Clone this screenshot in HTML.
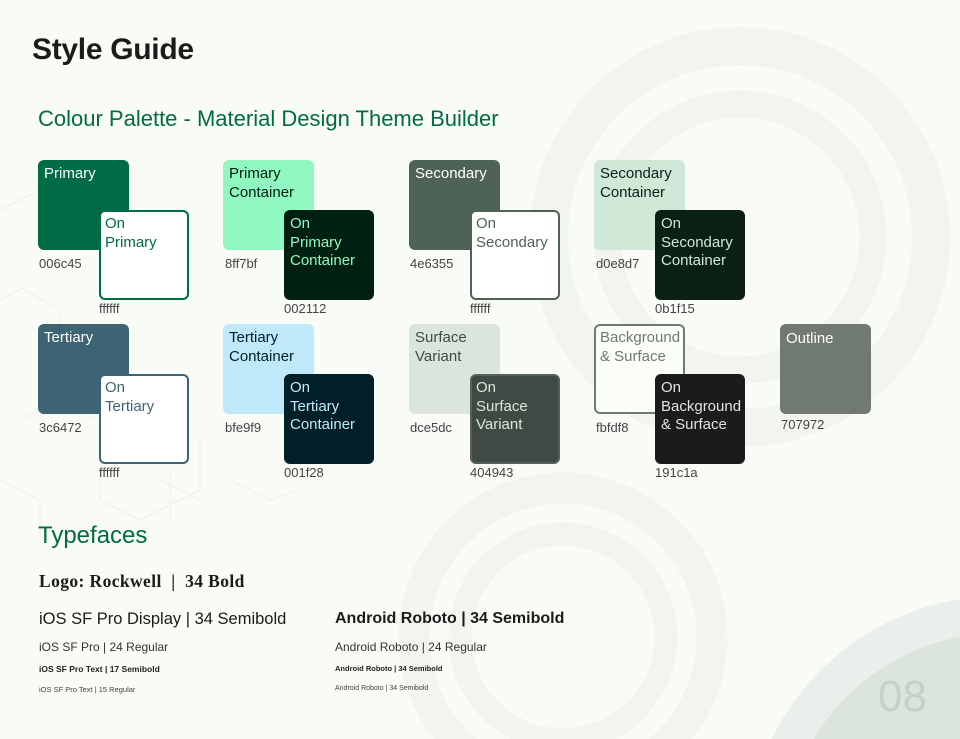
<!DOCTYPE html>
<html><head><meta charset="utf-8"><style>
*{margin:0;padding:0;box-sizing:border-box}
html,body{width:960px;height:739px;overflow:hidden}
body{background:#f9fbf7;font-family:"Liberation Sans",sans-serif;position:relative}
.a{position:absolute;white-space:nowrap}
.b{position:absolute;width:91px;height:90px;border-radius:6px;padding:5px 6px;font-size:15px;line-height:18.5px}
.s{position:absolute;width:90px;height:90px;border-radius:6px;padding:3px 4px;font-size:15px;line-height:18.5px;border:2px solid}
.h{position:absolute;font-size:13px;color:#444;white-space:nowrap}
</style></head><body>
<svg class="a" style="left:0;top:0;display:block" width="960" height="739">
<g fill="none" stroke="#f2f4f0">
<circle cx="740" cy="237" r="191" stroke-width="38"/>
<circle cx="740" cy="237" r="133" stroke-width="27"/>
<circle cx="563" cy="637" r="149" stroke-width="31"/>
<circle cx="563" cy="637" r="103" stroke-width="23"/>
</g>
<g fill="none" stroke="#edefeb" stroke-width="1">
<path d="M0 210 L30 195 L60 210 L60 250 M0 300 L22 288 L60 310 L60 360 L100 382 L100 430 M20 420 L60 400 L100 420 M140 440 L100 460 L100 500 L140 520 L200 490 L200 440 M160 480 L200 500 M0 480 L40 500 L40 540 M170 470 L170 520 M230 480 L270 500 L300 490"/>
</g>
<circle cx="1000" cy="850" r="254" fill="#ebefeb"/>
<circle cx="1000" cy="850" r="217" fill="#dce4de"/>
</svg>
<div class="a" style="left:32px;top:33px;font-size:30px;font-weight:bold;color:#1b1c1a;letter-spacing:-0.3px">Style Guide</div>
<div class="a" style="left:38px;top:106px;font-size:22px;color:#006c45">Colour Palette - Material Design Theme Builder</div>

<div class="b" style="left:38px;top:160px;background:#006c45;color:#fff">Primary</div>
<div class="h" style="left:39px;top:256px">006c45</div>
<div class="s" style="left:99px;top:210px;background:#fff;border-color:#006c45;color:#006c45">On<br>Primary</div>
<div class="h" style="left:99px;top:301px">ffffff</div>

<div class="b" style="left:223px;top:160px;background:#8ff7bf;color:#002112">Primary<br>Container</div>
<div class="h" style="left:225px;top:256px">8ff7bf</div>
<div class="s" style="left:284px;top:210px;background:#002112;border-color:#002112;color:#8ff7bf">On<br>Primary<br>Container</div>
<div class="h" style="left:284px;top:301px">002112</div>

<div class="b" style="left:409px;top:160px;background:#4e6355;color:#fff">Secondary</div>
<div class="h" style="left:410px;top:256px">4e6355</div>
<div class="s" style="left:470px;top:210px;background:#fff;border-color:#4e6355;color:#4e6355">On<br>Secondary</div>
<div class="h" style="left:470px;top:301px">ffffff</div>

<div class="b" style="left:594px;top:160px;background:#d0e8d7;color:#0b1f15">Secondary<br>Container</div>
<div class="h" style="left:596px;top:256px">d0e8d7</div>
<div class="s" style="left:655px;top:210px;background:#0b1f15;border-color:#0b1f15;color:#d0e8d7">On<br>Secondary<br>Container</div>
<div class="h" style="left:655px;top:301px">0b1f15</div>

<div class="b" style="left:38px;top:324px;background:#3c6472;color:#fff">Tertiary</div>
<div class="h" style="left:39px;top:420px">3c6472</div>
<div class="s" style="left:99px;top:374px;background:#fff;border-color:#3c6472;color:#3c6472">On<br>Tertiary</div>
<div class="h" style="left:99px;top:465px">ffffff</div>

<div class="b" style="left:223px;top:324px;background:#bfe9f9;color:#001f28">Tertiary<br>Container</div>
<div class="h" style="left:225px;top:420px">bfe9f9</div>
<div class="s" style="left:284px;top:374px;background:#001f28;border-color:#001f28;color:#bfe9f9">On<br>Tertiary<br>Container</div>
<div class="h" style="left:284px;top:465px">001f28</div>

<div class="b" style="left:409px;top:324px;background:#dce5dc;color:#404943">Surface<br>Variant</div>
<div class="h" style="left:410px;top:420px">dce5dc</div>
<div class="s" style="left:470px;top:374px;background:#404943;border-color:#56605a;color:#dce5dc">On<br>Surface<br>Variant</div>
<div class="h" style="left:470px;top:465px">404943</div>

<div class="b" style="left:594px;top:324px;background:#fbfdf8;border:2px solid #707972;color:#707972;padding:3px 4px">Background<br>&amp; Surface</div>
<div class="h" style="left:596px;top:420px">fbfdf8</div>
<div class="s" style="left:655px;top:374px;background:#191c1a;border-color:#191c1a;color:#e1e3df">On<br>Background<br>&amp; Surface</div>
<div class="h" style="left:655px;top:465px">191c1a</div>

<div class="b" style="left:780px;top:324px;background:#707972;color:#fff;padding-top:6px">Outline</div>
<div class="h" style="left:781px;top:417px">707972</div>

<div class="a" style="left:38px;top:522px;font-size:24px;color:#006c45">Typefaces</div>
<div class="a" style="left:39px;top:571px;font-size:17.5px;font-weight:bold;letter-spacing:0.4px;font-family:'Liberation Serif',serif;color:#1b1c1a">Logo: Rockwell&nbsp; | &nbsp;34 Bold</div>

<div class="a" style="left:39px;top:610px;font-size:16.5px;color:#1b1c1a">iOS SF Pro Display | 34 Semibold</div>
<div class="a" style="left:39px;top:640px;font-size:12px;color:#333">iOS SF Pro | 24 Regular</div>
<div class="a" style="left:39px;top:664px;font-size:8.5px;font-weight:bold;color:#222">iOS SF Pro Text | 17 Semibold</div>
<div class="a" style="left:39px;top:685px;font-size:7.5px;color:#444">iOS SF Pro Text | 15 Regular</div>

<div class="a" style="left:335px;top:610px;font-size:16px;font-weight:bold;color:#1b1c1a">Android Roboto | 34 Semibold</div>
<div class="a" style="left:335px;top:640px;font-size:12px;color:#333">Android Roboto | 24 Regular</div>
<div class="a" style="left:335px;top:664px;font-size:7.5px;font-weight:bold;color:#222">Android Roboto | 34 Semibold</div>
<div class="a" style="left:335px;top:685px;font-size:7px;color:#444">Android Roboto | 34 Semibold</div>

<div class="a" style="left:878px;top:672px;font-size:44px;color:#c6cfc8">08</div>
</body></html>
